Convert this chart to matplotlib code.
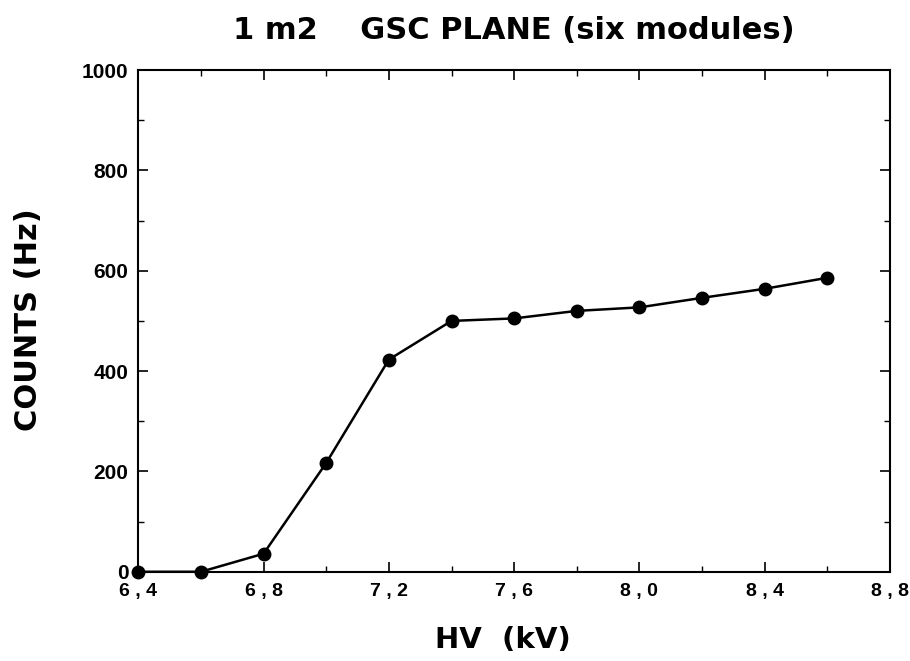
import numpy as np
import matplotlib.pyplot as plt
from matplotlib.ticker import MultipleLocator

# HV scan of the 1 m2 GSC plane
hv_kv = [6.4, 6.6, 6.8, 7.0, 7.2, 7.4, 7.6, 7.8, 8.0, 8.2, 8.4, 8.6]
counts_hz = [0, 0, 36, 217, 423, 500, 505, 520, 527, 546, 564, 586]

x_ticks = [6.4, 6.8, 7.2, 7.6, 8.0, 8.4, 8.8]
x_tick_labels = ["6 , 4", "6 , 8", "7 , 2", "7 , 6", "8 , 0", "8 , 4", "8 , 8"]
y_ticks = [0, 200, 400, 600, 800, 1000]

plt.rcParams['font.family'] = ['Liberation Sans', 'DejaVu Sans']

fig = plt.figure(figsize=(9.1, 6.61), dpi=100)
ax = fig.add_axes([0.152, 0.135, 0.826, 0.759])

ax.plot(hv_kv, counts_hz, color="black", lw=1.8, marker="o", ms=9,
        markerfacecolor="black", markeredgecolor="black", clip_on=False, zorder=3)

ax.set_xlim(6.4, 8.8)
ax.set_ylim(0, 1000)
ax.set_xticks(x_ticks)
ax.set_xticklabels(x_tick_labels)
ax.set_yticks(y_ticks)
ax.xaxis.set_minor_locator(MultipleLocator(0.2))
ax.yaxis.set_minor_locator(MultipleLocator(100))

ax.tick_params(which="both", direction="in", top=True, right=True)
ax.tick_params(which="major", length=7, width=1.2)
ax.tick_params(which="minor", length=4, width=1.0)
ax.tick_params(axis="x", which="major", pad=8)
ax.tick_params(axis="y", which="major", pad=7)
for lab in ax.get_xticklabels():
    lab.set_fontsize(14)
    lab.set_fontweight("bold")
for lab in ax.get_yticklabels():
    lab.set_fontsize(15)
    lab.set_fontweight("bold")

for s in ax.spines.values():
    s.set_linewidth(1.5)

label_font = dict(family="DejaVu Sans", fontweight="bold", fontsize=21)
fig.text(0.553, 0.02, "HV  (kV)", ha="center", va="baseline", **label_font)
fig.text(0.031, 0.516, "COUNTS (Hz)", rotation=90, ha="center", va="center",
         family="DejaVu Sans", fontweight="bold", fontsize=22)
fig.text(0.565, 0.941, "1 m2    GSC PLANE (six modules)", ha="center", va="baseline",
         family="DejaVu Sans", fontweight="bold", fontsize=22)

fig.savefig("out.png", dpi=100)
